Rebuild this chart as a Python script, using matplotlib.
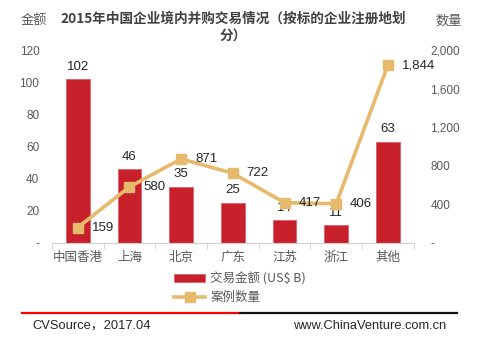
import matplotlib.pyplot as plt
import numpy as np

plt.rcParams['font.family'] = ['Noto Sans CJK SC', 'DejaVu Sans']

regions = ['中国香港', '上海', '北京', '广东', '江苏', '浙江', '其他']
amount = [102, 46, 35, 25, 14, 11, 63]          # US$ B
deals = [159, 580, 871, 722, 417, 406, 1844]

bar_color = '#C8202A'
line_color = '#E6B96C'
tick_color = '#595959'
num_font = ['Liberation Sans', 'DejaVu Sans']

fig = plt.figure(figsize=(4.8, 3.45), dpi=100)
ax = fig.add_axes([0.108, 0.296, 0.754, 0.559])
ax2 = ax.twinx()

x = np.arange(len(regions))
bars = ax.bar(x, amount, width=0.46, color=bar_color, edgecolor='#E06068',
              linewidth=0.6, label='交易金额 (US$ B)', zorder=2)
ax2.plot(x, deals, color=line_color, linewidth=2.6, marker='s', markersize=6.5,
         label='案例数量', zorder=3)
ax2.set_zorder(ax.get_zorder() + 1)
ax2.patch.set_visible(False)

for xi, v in zip(x, amount):
    ax.annotate(str(v), (xi, v), xytext=(0, 4.5), textcoords='offset points',
                ha='center', va='bottom', fontsize=9.5, color='#262626',
                family=num_font)
for xi, v in zip(x, deals):
    ax2.annotate(f'{v:,}', (xi, v), xytext=(10, 0), textcoords='offset points',
                 ha='left', va='center', fontsize=9.5, color='#262626',
                 family=num_font)

ax.set_xlim(-0.5, len(regions) - 0.5)
ax.set_ylim(0, 120)
ax2.set_ylim(0, 2000)
ax.set_yticks(range(0, 121, 20))
ax.set_yticklabels(['-'] + [str(t) for t in range(20, 121, 20)])
ax2.set_yticks(range(0, 2001, 400))
ax2.set_yticklabels(['-'] + [f'{t:,}' for t in range(400, 2001, 400)])

ax.set_xticks(x)
ax.set_xticklabels(regions)
ax.set_xticks(np.arange(-0.5, len(regions)), minor=True)
ax.tick_params(axis='x', which='major', length=0, pad=6, labelsize=9,
               labelcolor=tick_color)
ax.tick_params(axis='x', which='minor', length=4, color='#D0D0D0', direction='out')
ax.tick_params(axis='y', length=0, labelsize=8.5, labelcolor=tick_color, pad=9)
ax2.tick_params(axis='y', length=0, labelsize=8.5, labelcolor=tick_color, pad=12)
for lab in ax.get_yticklabels() + ax2.get_yticklabels():
    lab.set_family(num_font)

for a in (ax, ax2):
    for side in ('top', 'left', 'right', 'bottom'):
        a.spines[side].set_visible(False)
ax.spines['bottom'].set_visible(True)
ax.spines['bottom'].set_color('#D0D0D0')

fig.text(0.485, 0.945, '2015年中国企业境内并购交易情况（按标的企业注册地划',
         ha='center', va='center', fontsize=9.8, fontweight='bold', color='#404040')
fig.text(0.485, 0.895, '分）', ha='center', va='center', fontsize=9.8,
         fontweight='bold', color='#404040')
fig.text(0.07, 0.94, '金额', ha='center', va='center', fontsize=9.5, color=tick_color)
fig.text(0.935, 0.94, '数量', ha='center', va='center', fontsize=9.5, color=tick_color)

h1, l1 = ax.get_legend_handles_labels()
h2, l2 = ax2.get_legend_handles_labels()
fig.legend(h1 + h2, l1 + l2, loc='center', bbox_to_anchor=(0.5, 0.165),
           frameon=False, fontsize=9, labelcolor=tick_color, handlelength=2.5,
           labelspacing=0.45, handletextpad=0.4)

# footer rule: red then black
fig.add_artist(plt.Line2D([0.046, 0.5], [0.092, 0.092], color='#FF0000', linewidth=1.6))
fig.add_artist(plt.Line2D([0.5, 0.952], [0.092, 0.092], color='#111111', linewidth=1.6))
fig.text(0.068, 0.055, 'CVSource，2017.04', ha='left', va='center', fontsize=9.3,
         color='#262626', family=['Liberation Sans', 'Noto Sans CJK SC'])
fig.text(0.93, 0.055, 'www.ChinaVenture.com.cn', ha='right', va='center', fontsize=9.3,
         color='#262626', family=num_font)

fig.savefig('out.png', dpi=100)
